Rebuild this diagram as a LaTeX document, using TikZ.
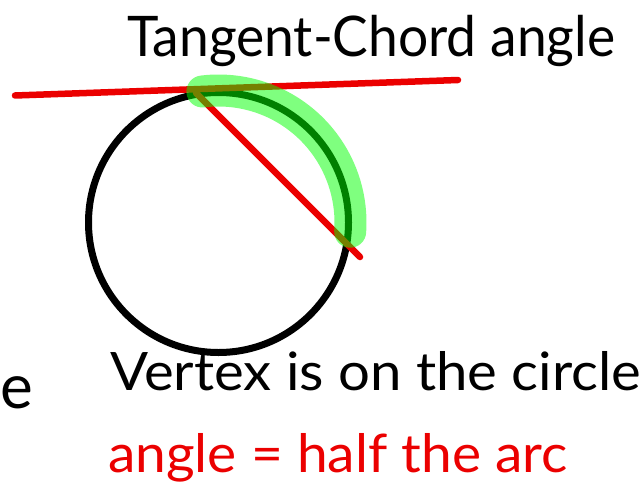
\documentclass[tikz,border=0pt]{standalone}
\usepackage{fontspec}
\setmainfont{Lato}
\definecolor{tcred}{RGB}{235,0,0}
\definecolor{hlgreen}{RGB}{0,255,0}
\begin{document}
\begin{tikzpicture}[x=1pt,y=-1pt,
  circ/.style={line width=7pt,draw=black},
  redline/.style={line width=6.5pt,draw=tcred,line cap=round},
  hilite/.style={line width=32pt,draw=hlgreen,draw opacity=0.5,line cap=round},
  lbl/.style={inner sep=0pt,anchor=base west,font=\fontsize{53}{60}\selectfont}]
\useasboundingbox (0,0) rectangle (644,492);
\coordinate (O) at (218.5,222.5);
\coordinate (V) at (196,93);
\coordinate (E) at (360,257);
\coordinate (TL) at (15,95.5);
\coordinate (TR) at (458,80);
\draw[circ] (O) circle[radius=130];
\draw[redline] (TL) -- (TR);
\draw[redline] (V) -- (E);
\draw[hilite] (O) ++(-97:132) arc[start angle=-97,end angle=4,radius=132];
\node[lbl,font=\fontsize{56}{60}\selectfont] (title) at (127,57) {\scalebox{0.953}[1]{Tangent-Chord angle}};
\node[lbl] (vertex) at (110,390) {\scalebox{1.062}[1]{Vertex is on the circle}};
\node[lbl,text=tcred] (half) at (108,472) {\scalebox{1.039}[1]{angle = half the arc}};
\node[lbl,font=\fontsize{62}{70}\selectfont] (frag) at (0,408) {e};
\end{tikzpicture}
\end{document}
